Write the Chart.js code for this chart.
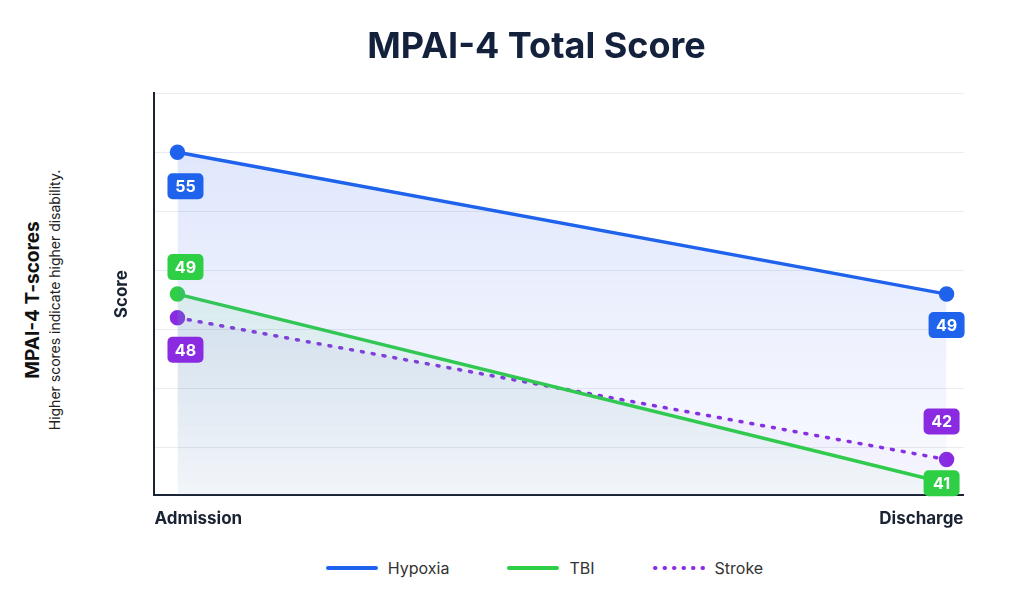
<!DOCTYPE html>
<html><head><meta charset="utf-8">
<script src="https://cdn.jsdelivr.net/npm/chart.js@4.4.1/dist/chart.umd.min.js"></script>
<style>
body{margin:0;background:#fff;font-family:Inter,"Noto Sans",sans-serif;width:1009px;height:611px;overflow:hidden;position:relative}
#wrap{position:absolute;left:108px;top:8px;width:865px;height:535px}
#side{position:absolute;left:42px;top:300px;transform:translate(-50%,-50%) rotate(-90deg);text-align:center;white-space:nowrap}
#side b{display:block;font-size:19px;color:#111}
#side span{font-size:14px;color:#222}
#legend{position:absolute;top:558px;left:0;width:1009px;display:flex;justify-content:center;gap:58px;font-size:16px;color:#333;padding-left:80px;box-sizing:border-box}
#legend div{display:flex;align-items:center;gap:10px}
</style></head><body>
<div id="side"><b>MPAI-4 T-scores</b><span>Higher scores indicate higher disability.</span></div>
<div id="wrap"><canvas id="c"></canvas></div>
<div id="legend"></div>
<script>
let timepoints = ['Admission', 'Discharge'];
let hypoxia = [55, 49];
let tbi = [49, 41];
let stroke = [48, 42];
let seriesNames = ['Hypoxia', 'TBI', 'Stroke'];
let colors = ['#1f63ec', '#2fcf45', '#8a2be2'];
let fills = ['rgba(80,120,240,', 'rgba(80,210,110,', 'rgba(170,120,235,'];
// label offsets (dx, dy) per point
let labelPos = [[[8, 34], [0, 31]], [[8, -27], [-5, 0]], [[8, 32], [-5, -38]]];

function grad(i) {
    return function (ctx) {
        let a = ctx.chart.chartArea;
        if (!a) return 'transparent';
        let g = ctx.chart.ctx.createLinearGradient(0, a.top, 0, a.bottom);
        g.addColorStop(0, fills[i] + '0.2)');
        g.addColorStop(1, fills[i] + '0.03)');
        return g;
    };
}

let dataSets = [hypoxia, tbi, stroke].map(function (vals, i) {
    return {
        label: seriesNames[i],
        data: vals.map(function (v, j) { return { x: j, y: v }; }),
        borderColor: colors[i],
        backgroundColor: grad(i),
        pointBackgroundColor: colors[i],
        pointBorderColor: colors[i],
        pointRadius: 6,
        borderWidth: 3.5,
        borderDash: i === 2 ? [2, 9] : [],
        borderCapStyle: 'round',
        fill: 'origin',
        tension: 0
    };
});

let badges = {
    id: 'badges',
    afterDatasetsDraw(chart) {
        let c = chart.ctx;
        chart.data.datasets.forEach(function (ds, i) {
            chart.getDatasetMeta(i).data.forEach(function (pt, j) {
                let x = pt.x + labelPos[i][j][0], y = pt.y + labelPos[i][j][1];
                c.save();
                c.fillStyle = colors[i];
                c.beginPath();
                c.roundRect(x - 18, y - 13, 36, 26, 5);
                c.fill();
                c.fillStyle = '#fff';
                c.font = 'bold 16px Inter';
                c.textAlign = 'center';
                c.textBaseline = 'middle';
                c.fillText(ds.data[j].y, x, y + 1);
                c.restore();
            });
        });
        // x category labels
        let a = chart.chartArea;
        c.save();
        c.fillStyle = '#1a2333';
        c.font = 'bold 17px Inter';
        c.textBaseline = 'top';
        c.textAlign = 'left';
        c.fillText(timepoints[0], a.left, a.bottom + 15);
        c.textAlign = 'right';
        c.fillText(timepoints[1], a.right, a.bottom + 15);
        c.restore();
    }
};

new Chart(document.getElementById('c'), {
    type: 'line',
    data: { datasets: dataSets },
    options: {
        responsive: true,
        maintainAspectRatio: false,
        animation: false,
        layout: { padding: { bottom: 40, right: 8 } },
        plugins: {
            legend: { display: false },
            tooltip: { enabled: false },
            title: {
                display: true, text: 'MPAI-4 Total Score', color: '#14213d',
                font: { size: 36, weight: 'bold', family: 'Inter' }, padding: { top: 18, bottom: 24 }
            }
        },
        scales: {
            x: {
                type: 'linear', min: -0.03, max: 1.022,
                grid: { display: false },
                border: { color: '#1a2333', width: 2 },
                ticks: { display: false }
            },
            y: {
                min: 40.5, max: 57.5,
                ticks: { display: false, stepSize: 2.5 },
                grid: { color: '#e9ebf0', drawTicks: false },
                border: { color: '#1a2333', width: 2 },
                title: { display: true, text: 'Score', color: '#1a2333', padding: { bottom: 22 },
                    font: { size: 17, weight: 'bold', family: 'Inter' } }
            }
        }
    },
    plugins: [badges]
});

let leg = document.getElementById('legend');
seriesNames.forEach(function (n, i) {
    let d = document.createElement('div');
    d.innerHTML = '<svg width="52" height="8"><line x1="2" y1="4" x2="50" y2="4" stroke="' + colors[i] +
        '" stroke-width="4" stroke-linecap="round"' + (i === 2 ? ' stroke-dasharray="0.5 9"' : '') + '/></svg><span>' + n + '</span>';
    leg.appendChild(d);
});
</script>
</body></html>
